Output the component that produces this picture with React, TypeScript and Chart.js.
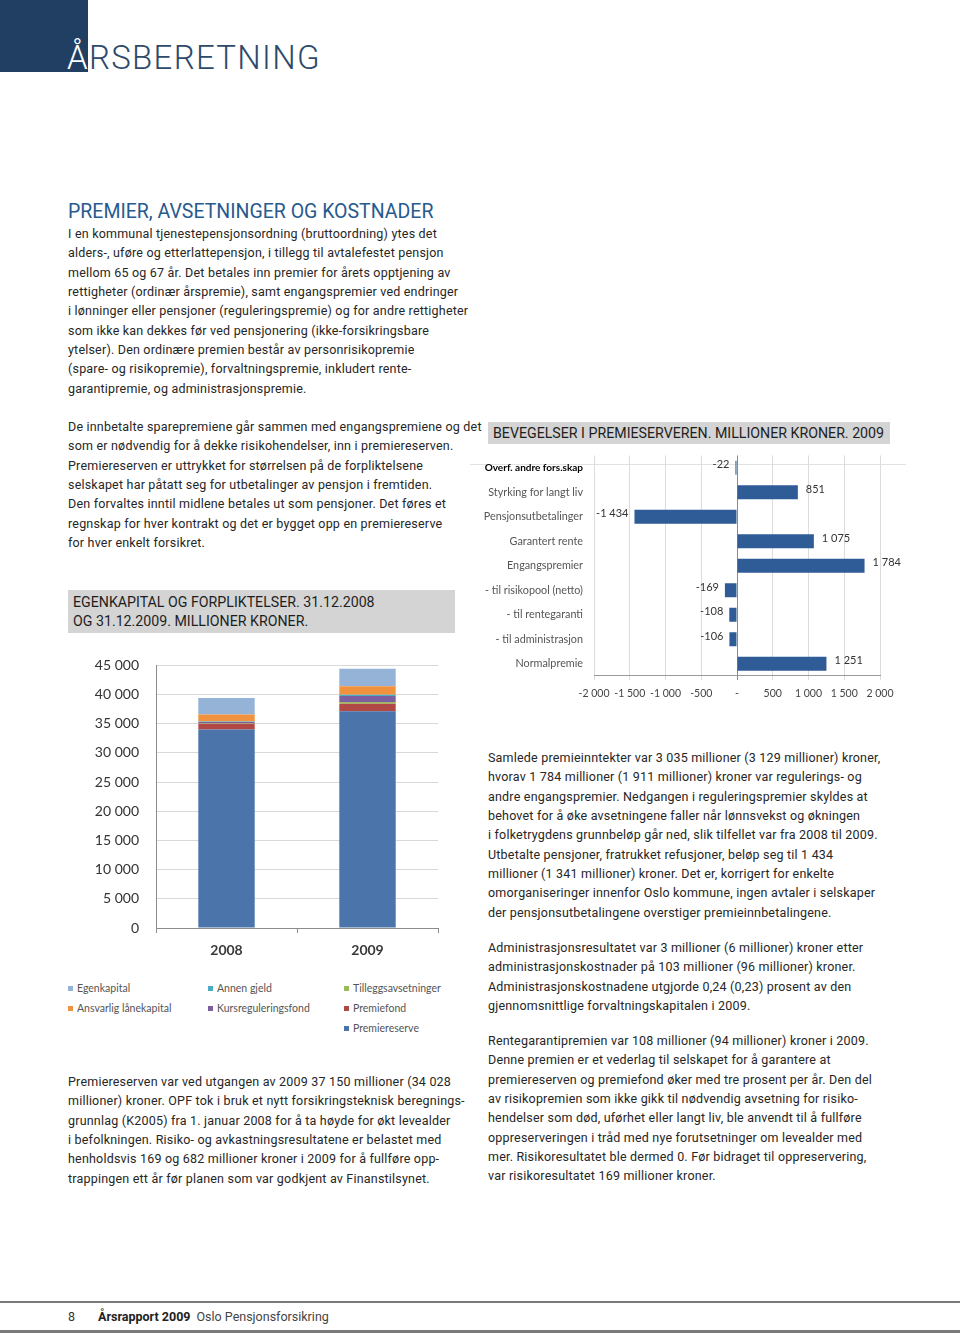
import React, { useEffect, useRef } from "react";
import { Chart, registerables } from "chart.js";

Chart.register(...registerables);

// ---------- Stacked chart data ----------
const years = ["2008", "2009"];
const premiereserve = [34028, 37150];
const premiefond = [970, 1280];
const tilleggsavsetninger = [100, 290];
const kursreguleringsfond = [200, 1030];
const annenGjeld = [100, 230];
const ansvarligLanekapital = [1200, 1430];
const egenkapital = [2800, 3030];
const stackYMin = 0;
const stackYMax = 45000;
const stackYStep = 5000;

// bottom -> top stacking order
const stackSeriesNames = [
  "Premiereserve",
  "Premiefond",
  "Tilleggsavsetninger",
  "Kursreguleringsfond",
  "Annen gjeld",
  "Ansvarlig lånekapital",
  "Egenkapital",
];
const stackSeriesValues = [
  premiereserve,
  premiefond,
  tilleggsavsetninger,
  kursreguleringsfond,
  annenGjeld,
  ansvarligLanekapital,
  egenkapital,
];
const stackColors = ["#4a74aa", "#b04845", "#9bbb59", "#7b5fa0", "#4bacc6", "#f0923e", "#95b3d7"];
const legendOrder = [
  "Egenkapital",
  "Annen gjeld",
  "Tilleggsavsetninger",
  "Ansvarlig lånekapital",
  "Kursreguleringsfond",
  "Premiefond",
  "Premiereserve",
];

// ---------- Horizontal chart data ----------
const movementCategories = [
  "Overf. andre fors.skap",
  "Styrking for langt liv",
  "Pensjonsutbetalinger",
  "Garantert rente",
  "Engangspremier",
  "- til risikopool (netto)",
  "- til rentegaranti",
  "- til administrasjon",
  "Normalpremie",
];
const movementValues = [-22, 851, -1434, 1075, 1784, -169, -108, -106, 1251];
const movementXMin = -2000;
const movementXMax = 2000;
const movementXStep = 500;

// ---------- Page text ----------
const para1 = [
  "I en kommunal tjenestepensjonsordning (bruttoordning) ytes det",
  "alders-, uføre og etterlattepensjon, i tillegg til avtalefestet pensjon",
  "mellom 65 og 67 år. Det betales inn premier for årets opptjening av",
  "rettigheter (ordinær årspremie), samt engangspremier ved endringer",
  "i lønninger eller pensjoner (reguleringspremie) og for andre rettigheter",
  "som ikke kan dekkes før ved pensjonering (ikke-forsikringsbare",
  "ytelser). Den ordinære premien består av personrisikopremie",
  "(spare- og risikopremie), forvaltningspremie, inkludert rente-",
  "garantipremie, og administrasjonspremie.",
];
const para2 = [
  "De innbetalte sparepremiene går sammen med engangspremiene og det",
  "som er nødvendig for å dekke risikohendelser, inn i premiereserven.",
  "Premiereserven er uttrykket for størrelsen på de forpliktelsene",
  "selskapet har påtatt seg for utbetalinger av pensjon i fremtiden.",
  "Den forvaltes inntil midlene betales ut som pensjoner. Det føres et",
  "regnskap for hver kontrakt og det er bygget opp en premiereserve",
  "for hver enkelt forsikret.",
];
const para3 = [
  "Premiereserven var ved utgangen av 2009 37 150 millioner (34 028",
  "millioner) kroner. OPF tok i bruk et nytt forsikringsteknisk beregnings-",
  "grunnlag (K2005) fra 1. januar 2008 for å ta høyde for økt levealder",
  "i befolkningen. Risiko- og avkastningsresultatene er belastet med",
  "henholdsvis 169 og 682 millioner kroner i 2009 for å fullføre opp-",
  "trappingen ett år før planen som var godkjent av Finanstilsynet.",
];
const paraR1 = [
  "Samlede premieinntekter var 3 035 millioner (3 129 millioner) kroner,",
  "hvorav 1 784 millioner (1 911 millioner) kroner var regulerings- og",
  "andre engangspremier. Nedgangen i reguleringspremier skyldes at",
  "behovet for å øke avsetningene faller når lønnsvekst og økningen",
  "i folketrygdens grunnbeløp går ned, slik tilfellet var fra 2008 til 2009.",
  "Utbetalte pensjoner, fratrukket refusjoner, beløp seg til 1 434",
  "millioner (1 341 millioner) kroner. Det er, korrigert for enkelte",
  "omorganiseringer innenfor Oslo kommune, ingen avtaler i selskaper",
  "der pensjonsutbetalingene overstiger premieinnbetalingene.",
];
const paraR2 = [
  "Administrasjonsresultatet var 3 millioner (6 millioner) kroner etter",
  "administrasjonskostnader på 103 millioner (96 millioner) kroner.",
  "Administrasjonskostnadene utgjorde 0,24 (0,23) prosent av den",
  "gjennomsnittlige forvaltningskapitalen i 2009.",
];
const paraR3 = [
  "Rentegarantipremien var 108 millioner (94 millioner) kroner i 2009.",
  "Denne premien er et vederlag til selskapet for å garantere at",
  "premiereserven og premiefond øker med tre prosent per år. Den del",
  "av risikopremien som ikke gikk til nødvendig avsetning for risiko-",
  "hendelser som død, uførhet eller langt liv, ble anvendt til å fullføre",
  "oppreserveringen i tråd med nye forutsetninger om levealder med",
  "mer. Risikoresultatet ble dermed 0. Før bidraget til oppreservering,",
  "var risikoresultatet 169 millioner kroner.",
];

function fmt(n: number): string {
  const s = Math.abs(Math.round(n)).toString().replace(/\B(?=(\d{3})+(?!\d))/g, " ");
  return (n < 0 ? "-" : "") + s;
}

const BODY_FONT = "Roboto, 'DejaVu Sans', sans-serif";
const CHART_FONT = "Lato";

function Para({ lines, left, top }: { lines: string[]; left: number; top: number }) {
  return (
    <div
      style={{
        position: "absolute",
        left,
        top,
        fontFamily: BODY_FONT,
        fontSize: 12.5,
        letterSpacing: 0.2,
        lineHeight: "19.35px",
        color: "#262626",
        whiteSpace: "nowrap",
      }}
    >
      {lines.map((l, i) => (
        <div key={i}>{l}</div>
      ))}
    </div>
  );
}

const valueLabels = {
  id: "valueLabels",
  afterDatasetsDraw(chart: any) {
    const ctx = chart.ctx;
    const meta = chart.getDatasetMeta(0);
    const data = chart.data.datasets[0].data as number[];
    ctx.save();
    ctx.font = `11px ${CHART_FONT}`;
    ctx.fillStyle = "#333";
    ctx.textBaseline = "middle";
    meta.data.forEach((bar: any, i: number) => {
      const v = data[i];
      if (v >= 0) {
        ctx.textAlign = "left";
        ctx.fillText(fmt(v), bar.x + 8, bar.y - 3);
      } else {
        ctx.textAlign = "right";
        ctx.fillText(fmt(v), bar.x - 6, bar.y - 3);
      }
    });
    ctx.restore();
  },
};

export default function App() {
  const stackRef = useRef<HTMLCanvasElement>(null);
  const moveRef = useRef<HTMLCanvasElement>(null);

  useEffect(() => {
    const stackChart = new Chart(stackRef.current as HTMLCanvasElement, {
      type: "bar",
      data: {
        labels: years,
        datasets: stackSeriesNames.map((name, i) => ({
          label: name,
          data: stackSeriesValues[i],
          backgroundColor: stackColors[i],
          barPercentage: 0.4,
          categoryPercentage: 1,
        })),
      },
      options: {
        responsive: false,
        animation: false,
        layout: { padding: { top: 10, right: 22, left: 0, bottom: 0 } },
        plugins: { legend: { display: false }, tooltip: { enabled: false } },
        scales: {
          x: {
            stacked: true,
            grid: { offset: true, drawOnChartArea: false, drawTicks: true, tickLength: 5, color: "#8c8c8c" },
            border: { color: "#8c8c8c" },
            ticks: { font: { family: CHART_FONT, size: 14, weight: "bold" }, color: "#3a3a3a", padding: 9 },
            afterFit: (a: any) => {
              a.height = 39;
            },
          },
          y: {
            stacked: true,
            min: stackYMin,
            max: stackYMax,
            grid: { color: "#d9d9d9", drawTicks: false },
            border: { color: "#8c8c8c" },
            ticks: {
              stepSize: stackYStep,
              font: { family: CHART_FONT, size: 14 },
              color: "#333",
              padding: 17,
              callback: (v: any) => fmt(Number(v)),
            },
            afterFit: (a: any) => {
              a.width = 96;
            },
          },
        },
      } as any,
    });

    const moveChart = new Chart(moveRef.current as HTMLCanvasElement, {
      type: "bar",
      data: {
        labels: movementCategories,
        datasets: [
          {
            data: movementValues,
            backgroundColor: "#2f5b96",
            barPercentage: 0.58,
            categoryPercentage: 1,
          },
        ],
      },
      options: {
        indexAxis: "y",
        responsive: false,
        animation: false,
        layout: { padding: { top: 4, right: 25, left: 0, bottom: 0 } },
        plugins: { legend: { display: false }, tooltip: { enabled: false } },
        scales: {
          x: {
            min: movementXMin,
            max: movementXMax,
            grid: {
              color: (c: any) => (c.tick && c.tick.value === 0 ? "#8a8a8a" : "#dcdcdc"),
              tickLength: 4,
              drawTicks: true,
            },
            border: { display: true, color: "#9a9a9a" },
            ticks: {
              stepSize: movementXStep,
              autoSkip: false,
              maxRotation: 0,
              font: { family: CHART_FONT, size: 10.5 },
              color: "#444",
              padding: 7,
              callback: (v: any) => (Number(v) === 0 ? "-" : fmt(Number(v))),
            },
            afterFit: (a: any) => {
              a.height = 31;
            },
          },
          y: {
            grid: { display: false, drawTicks: false },
            border: { display: false },
            ticks: {
              autoSkip: false,
              padding: 11,
              font: (c: any) =>
                c.index === 0
                  ? { family: CHART_FONT, size: 10, weight: "bold" }
                  : { family: CHART_FONT, size: 10.8 },
              color: (c: any) => (c.index === 0 ? "#000" : "#555"),
            },
            afterFit: (a: any) => {
              a.width = 119;
            },
          },
        },
      } as any,
      plugins: [valueLabels],
    });

    return () => {
      stackChart.destroy();
      moveChart.destroy();
    };
  }, []);

  const legendItems = legendOrder.map((name) => {
    const idx = stackSeriesNames.indexOf(name);
    return { name, color: stackColors[idx] };
  });
  const legendCols = [68, 208, 344];
  const legendSlots = [
    [0, 0],
    [1, 0],
    [2, 0],
    [0, 1],
    [1, 1],
    [2, 1],
    [2, 2],
  ];

  return (
    <div
      style={{
        position: "absolute",
        left: 0,
        top: 0,
        width: 960,
        height: 1333,
        background: "#fff",
        overflow: "hidden",
        fontFamily: BODY_FONT,
      }}
    >
      {/* Header block */}
      <div style={{ position: "absolute", left: 0, top: 0, width: 88, height: 72, background: "#213f62" }} />
      <div
        style={{
          position: "absolute",
          left: 67,
          top: 38,
          fontFamily: BODY_FONT,
          fontWeight: 300,
          fontSize: 33,
          lineHeight: "40px",
          letterSpacing: 1.3,
          color: "#2d4a6a",
          whiteSpace: "nowrap",
        }}
      >
        <span style={{ color: "#ffffff" }}>Å</span>RSBERETNING
      </div>

      {/* Section heading */}
      <div
        style={{
          position: "absolute",
          left: 68,
          top: 200,
          fontSize: 19.5,
          lineHeight: "24px",
          color: "#275a8e",
          whiteSpace: "nowrap",
        }}
      >
        PREMIER, AVSETNINGER OG KOSTNADER
      </div>

      <Para lines={para1} left={68} top={224} />
      <Para lines={para2} left={68} top={417} />

      {/* Chart title boxes */}
      <div
        style={{
          position: "absolute",
          left: 488,
          top: 422,
          width: 402,
          height: 22,
          background: "#d4d4d4",
          fontSize: 14.2,
          lineHeight: "22px",
          paddingLeft: 5,
          boxSizing: "border-box",
          color: "#1e1e1e",
          whiteSpace: "nowrap",
        }}
      >
        BEVEGELSER I PREMIESERVEREN. MILLIONER KRONER. 2009
      </div>
      <div
        style={{
          position: "absolute",
          left: 68,
          top: 590,
          width: 387,
          height: 43,
          background: "#d4d4d4",
          fontSize: 14.2,
          lineHeight: "19px",
          paddingLeft: 5,
          paddingTop: 3,
          boxSizing: "border-box",
          color: "#1e1e1e",
          whiteSpace: "nowrap",
        }}
      >
        <div>EGENKAPITAL OG FORPLIKTELSER. 31.12.2008</div>
        <div>OG 31.12.2009. MILLIONER KRONER.</div>
      </div>

      {/* Horizontal chart */}
      <div style={{ position: "absolute", left: 470, top: 464, width: 436, height: 1, background: "#e2e2e2" }} />
      <canvas
        ref={moveRef}
        width={430}
        height={269}
        style={{ position: "absolute", left: 475, top: 438, width: 430, height: 269 }}
      />

      {/* Stacked chart */}
      <canvas
        ref={stackRef}
        width={400}
        height={327}
        style={{ position: "absolute", left: 60, top: 640, width: 400, height: 327 }}
      />

      {/* Legend */}
      {legendItems.map((it, i) => (
        <div
          key={it.name}
          style={{
            position: "absolute",
            left: legendCols[legendSlots[i][0]],
            top: 981 + legendSlots[i][1] * 20,
            height: 14,
            display: "flex",
            alignItems: "center",
            fontFamily: CHART_FONT,
            fontSize: 10.5,
            color: "#555",
            whiteSpace: "nowrap",
          }}
        >
          <span style={{ display: "inline-block", width: 5, height: 5, background: it.color, marginRight: 4 }} />
          {it.name}
        </div>
      ))}

      <Para lines={paraR1} left={488} top={748} />
      <Para lines={paraR2} left={488} top={938} />
      <Para lines={paraR3} left={488} top={1031} />
      <Para lines={para3} left={68} top={1072} />

      {/* Footer */}
      <div style={{ position: "absolute", left: 0, top: 1301, width: 960, height: 2, background: "#7a7a7a" }} />
      <div style={{ position: "absolute", left: 0, top: 1330, width: 960, height: 3, background: "#7a7a7a" }} />
      <div
        style={{
          position: "absolute",
          left: 68,
          top: 1308,
          fontSize: 12.5,
          lineHeight: "18px",
          color: "#333",
          whiteSpace: "nowrap",
        }}
      >
        8
      </div>
      <div
        style={{
          position: "absolute",
          left: 98,
          top: 1308,
          fontSize: 12.5,
          lineHeight: "18px",
          color: "#222",
          whiteSpace: "nowrap",
        }}
      >
        <span style={{ fontWeight: 700 }}>Årsrapport 2009</span>
        <span style={{ marginLeft: 6, color: "#444" }}>Oslo Pensjonsforsikring</span>
      </div>
    </div>
  );
}
